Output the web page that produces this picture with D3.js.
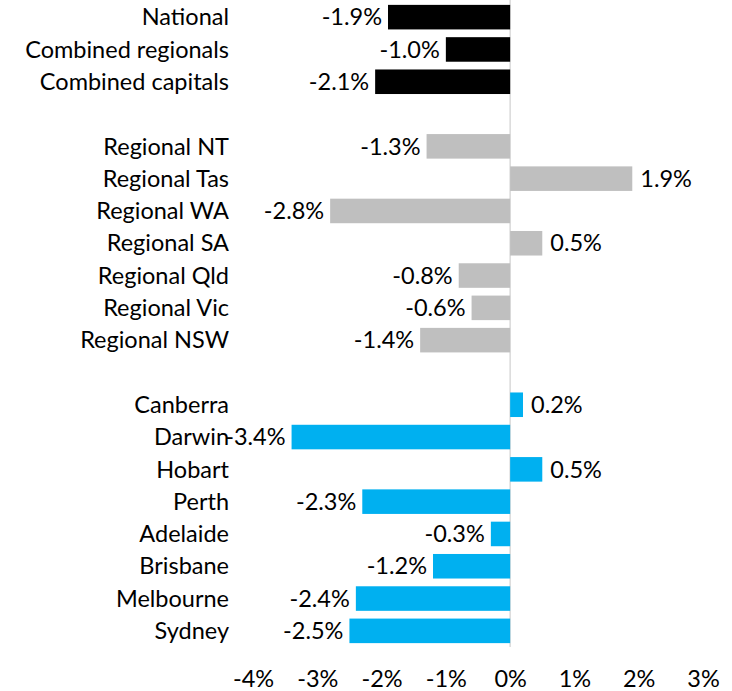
<!DOCTYPE html>
<html>
<head>
<meta charset="utf-8">
<script src="https://cdnjs.cloudflare.com/ajax/libs/d3/7.8.5/d3.min.js"></script>
<style>
  body { margin: 0; background: #fff; }
  text { font-family: Lato, "Open Sans", sans-serif; }
</style>
</head>
<body>
<div id="chart"></div>
<script>
var svgWidth = 732;
var svgHeight = 691;

// Rows top to bottom; empty strings are the gaps between groups
var categories = ["National", "Combined regionals", "Combined capitals", "",
  "Regional NT", "Regional Tas", "Regional WA", "Regional SA", "Regional Qld", "Regional Vic", "Regional NSW", " ",
  "Canberra", "Darwin", "Hobart", "Perth", "Adelaide", "Brisbane", "Melbourne", "Sydney"];
var values = [-1.9, -1.0, -2.1, null,
  -1.3, 1.9, -2.8, 0.5, -0.8, -0.6, -1.4, null,
  0.2, -3.4, 0.5, -2.3, -0.3, -1.2, -2.4, -2.5];
var groups = ["total", "total", "total", null,
  "regional", "regional", "regional", "regional", "regional", "regional", "regional", null,
  "capital", "capital", "capital", "capital", "capital", "capital", "capital", "capital"];
var tickValues = [-4, -3, -2, -1, 0, 1, 2, 3];

var colors = { total: "#000000", regional: "#bfbfbf", capital: "#00b0f0" };
var fontSize = 23.5;

var data = categories.map(function(c, i) {
  return { name: c, value: values[i], group: groups[i] };
});

var svg = d3.select("#chart")
  .append("svg")
  .attr("width", svgWidth)
  .attr("height", svgHeight);

var x = d3.scaleLinear()
  .domain([-4, 3])
  .range([253, 703]);

var y = d3.scaleBand()
  .domain(categories)
  .range([1, 647])
  .paddingInner(0.24)
  .paddingOuter(0.12);

// zero line
svg.append("line")
  .attr("x1", x(0)).attr("x2", x(0))
  .attr("y1", 0).attr("y2", 647)
  .attr("stroke", "#d9d9d9")
  .attr("stroke-width", 1.5);

var rows = data.filter(function(d) { return d.value !== null; });

svg.selectAll(".bar")
  .data(rows)
  .enter().append("rect")
  .attr("class", "bar")
  .attr("x", function(d) { return x(Math.min(0, d.value)); })
  .attr("width", function(d) { return Math.abs(x(d.value) - x(0)); })
  .attr("y", function(d) { return y(d.name); })
  .attr("height", y.bandwidth())
  .attr("fill", function(d) { return colors[d.group]; });

// category labels
svg.selectAll(".cat")
  .data(rows)
  .enter().append("text")
  .attr("class", "cat")
  .attr("x", 229)
  .attr("y", function(d) { return y(d.name) + y.bandwidth() / 2; })
  .attr("dy", "0.35em")
  .attr("text-anchor", "end")
  .attr("font-size", fontSize)
  .attr("fill", "#000")
  .text(function(d) { return d.name; });

// value labels (plain hyphen for negatives, like the original)
svg.selectAll(".val")
  .data(rows)
  .enter().append("text")
  .attr("class", "val")
  .attr("x", function(d) { return d.value < 0 ? x(d.value) - 6 : x(d.value) + 8; })
  .attr("y", function(d) { return y(d.name) + y.bandwidth() / 2; })
  .attr("dy", "0.35em")
  .attr("text-anchor", function(d) { return d.value < 0 ? "end" : "start"; })
  .attr("font-size", fontSize)
  .attr("fill", "#000")
  .text(function(d) { return d.value.toFixed(1) + "%"; });

// x axis tick labels
var xAxis = d3.axisBottom(x)
  .tickValues(tickValues)
  .tickSize(0)
  .tickPadding(0)
  .tickFormat(function(d) { return d + "%"; });

var axisG = svg.append("g")
  .attr("transform", "translate(0, 670)")
  .call(xAxis);
axisG.select(".domain").remove();
axisG.selectAll("text")
  .attr("font-size", fontSize)
  .attr("font-family", "Lato, 'Open Sans', sans-serif")
  .attr("fill", "#000");
</script>
</body>
</html>
